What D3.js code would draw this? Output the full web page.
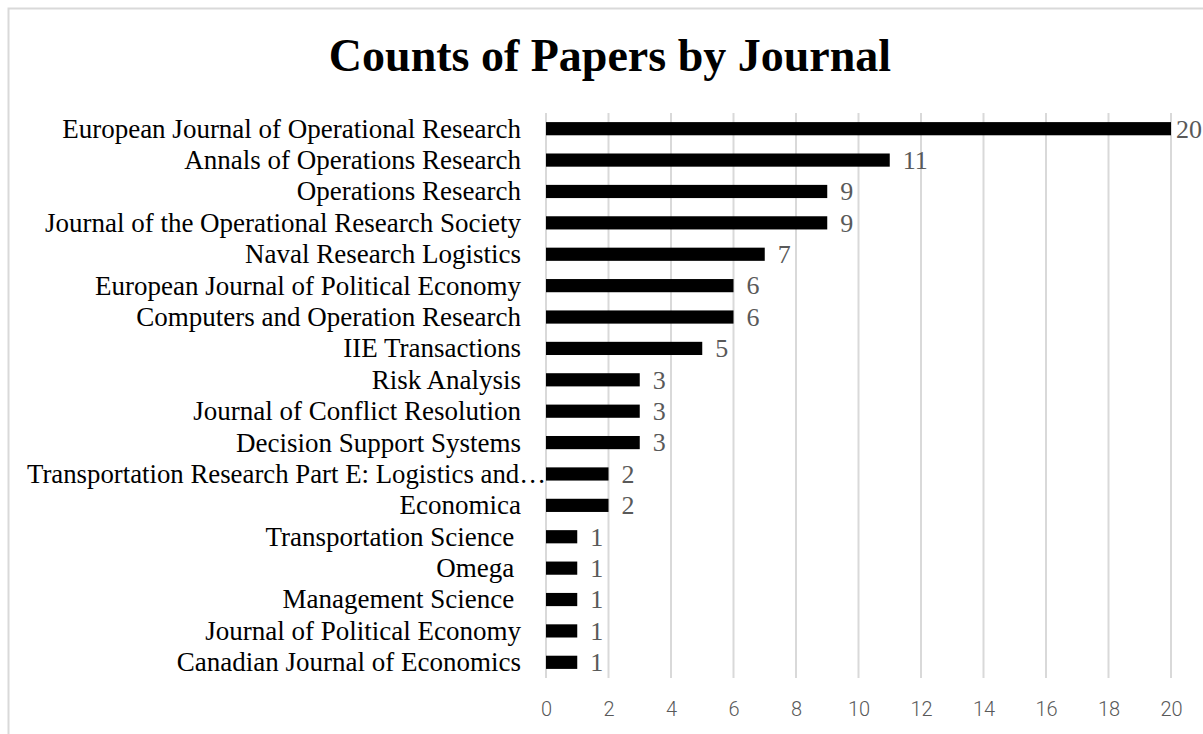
<!DOCTYPE html>
<html><head><meta charset="utf-8">
<script src="https://cdn.jsdelivr.net/npm/d3@7"></script>
<style>
html,body{margin:0;padding:0;background:#fff;}
svg{display:block;}
</style></head>
<body>
<script>
const categories = [
  "European Journal of Operational Research",
  "Annals of Operations Research",
  "Operations Research",
  "Journal of the Operational Research Society",
  "Naval Research Logistics",
  "European Journal of Political Economy",
  "Computers and Operation Research",
  "IIE Transactions",
  "Risk Analysis",
  "Journal of Conflict Resolution",
  "Decision Support Systems",
  "Transportation Research Part E: Logistics and\u2026",
  "Economica",
  "Transportation Science ",
  "Omega ",
  "Management Science ",
  "Journal of Political Economy",
  "Canadian Journal of Economics"
];
const counts = [20, 11, 9, 9, 7, 6, 6, 5, 3, 3, 3, 2, 2, 1, 1, 1, 1, 1];
const tickValues = [0, 2, 4, 6, 8, 10, 12, 14, 16, 18, 20];
const title = "Counts of Papers by Journal";

const W = 1203, H = 734;
const svg = d3.select("body").append("svg").attr("width", W).attr("height", H);

// frame
svg.append("rect").attr("x", 8.5).attr("y", 8.5).attr("width", W + 10).attr("height", H + 10)
  .attr("fill", "none").attr("stroke", "#d9d9d9").attr("stroke-width", 2);

const x = d3.scaleLinear().domain([0, 20]).range([546, 1171]);
const y = d3.scaleBand().domain(categories).range([113, 678]).paddingInner(0.58).paddingOuter(0.29);

// title
svg.append("text").attr("x", 610).attr("y", 71).attr("text-anchor", "middle")
  .attr("font-family", "'Liberation Serif','Times New Roman',serif").attr("font-weight", "bold")
  .attr("font-size", 46).attr("fill", "#000").text(title);

// gridlines
svg.append("g").selectAll("line").data(tickValues).join("line")
  .attr("x1", d => x(d)).attr("x2", d => x(d)).attr("y1", 113).attr("y2", 678)
  .attr("stroke", "#d9d9d9").attr("stroke-width", 2);

// x axis tick labels
const xAxis = d3.axisBottom(x).tickValues(tickValues).tickSize(0).tickPadding(0);
const gx = svg.append("g").attr("transform", "translate(0,702)").call(xAxis);
gx.select(".domain").remove();
gx.selectAll("text").attr("font-family", "Roboto,'Liberation Sans',sans-serif")
  .attr("font-size", 20).attr("font-weight", 300).attr("fill", "#595959");

// bars
svg.append("g").selectAll("rect").data(categories).join("rect")
  .attr("x", x(0)).attr("y", d => y(d))
  .attr("width", (d, i) => x(counts[i]) - x(0)).attr("height", y.bandwidth())
  .attr("fill", "#000");

// category labels
const yAxis = d3.axisLeft(y).tickSize(0).tickPadding(25);
const gy = svg.append("g").attr("transform", `translate(${x(0)},0)`).call(yAxis);
gy.select(".domain").remove();
gy.selectAll("text").attr("font-family", "'Liberation Serif','Times New Roman',serif")
  .attr("font-size", 27).attr("fill", "#000").style("white-space", "pre")
  .attr("dy", "0.33em");
// the truncated label runs up to the axis, squeezed a little
gy.selectAll("text").filter(d => d.endsWith("\u2026"))
  .attr("x", 0).attr("textLength", 519).attr("lengthAdjust", "spacingAndGlyphs");
gy.raise();
svg.selectAll("g").filter(function(){ return this.__bars; });

// value labels
svg.append("g").selectAll("text").data(categories).join("text")
  .attr("x", (d, i) => Math.min(x(counts[i]) + 13, W - 27)).attr("y", d => y(d) + y.bandwidth() / 2)
  .attr("dy", "0.34em")
  .attr("font-family", "'Liberation Serif','Times New Roman',serif")
  .attr("font-size", 26).attr("fill", "#595959")
  .text((d, i) => counts[i]);
</script>
</body></html>
